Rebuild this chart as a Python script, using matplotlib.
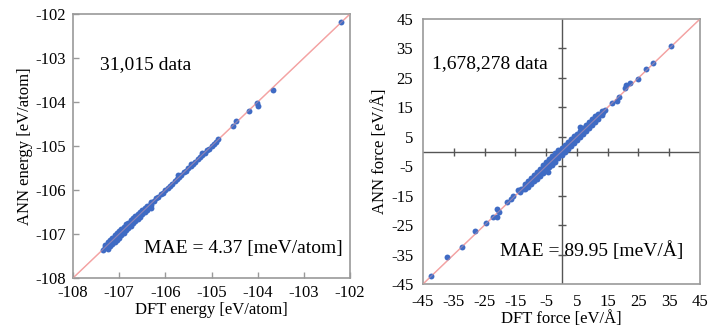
import matplotlib
matplotlib.use("Agg")
import matplotlib.pyplot as plt

plt.rcParams['font.family'] = ['Liberation Serif', 'DejaVu Serif']
plt.rcParams['axes.unicode_minus'] = False

# ---------------- data ----------------
energy_ticks = [-108, -107, -106, -105, -104, -103, -102]
energy_dft = [-107.35, -107.3, -107.25, -107.2, -107.15, -107.1, -107.05, -107.0, -106.95, -106.9,
              -106.85, -106.8, -106.75, -106.7, -106.65, -106.6, -106.55, -106.5, -106.45, -106.4,
              -106.35, -106.3, -106.25, -106.2, -106.15, -106.1, -106.05, -106.0, -105.95, -105.9,
              -105.85, -105.8, -105.75, -105.7, -105.65, -105.6, -105.55, -105.5, -105.45, -105.4,
              -105.35, -105.3, -105.25, -105.2, -105.15, -105.1, -105.05, -105.0, -104.95, -104.9,
              -104.85,
              -107.3, -107.25, -107.2, -107.15, -107.1, -107.05, -107.0, -106.95, -106.9, -106.85,
              -106.8, -106.75, -106.7, -106.65, -106.6, -106.55, -106.5, -106.45, -106.4, -106.3,
              -107.25, -107.2, -107.15, -107.1, -107.05, -107.0, -106.95, -106.9, -106.85, -106.8,
              -106.75, -106.7, -106.65, -106.6, -106.55, -106.5, -106.45, -106.4, -106.35, -106.3,
              -105.72, -105.45, -105.2, -106.3,
              -104.53, -104.47, -104.19, -104.02, -104.0, -103.67, -102.2]
energy_ann = [-107.36, -107.29, -107.27, -107.18, -107.16, -107.08, -107.07, -106.98, -106.96, -106.88,
              -106.86, -106.79, -106.76, -106.68, -106.66, -106.59, -106.56, -106.49, -106.46, -106.39,
              -106.36, -106.29, -106.26, -106.19, -106.16, -106.1, -106.06, -105.99, -105.96, -105.9,
              -105.86, -105.79, -105.76, -105.7, -105.66, -105.6, -105.56, -105.5, -105.46, -105.4,
              -105.36, -105.3, -105.26, -105.2, -105.16, -105.1, -105.06, -105.0, -104.95, -104.9,
              -104.85,
              -107.24, -107.19, -107.13, -107.08, -107.03, -106.98, -106.93, -106.88, -106.83, -106.78,
              -106.74, -106.69, -106.64, -106.59, -106.55, -106.5, -106.45, -106.41, -106.36, -106.27,
              -107.33, -107.28, -107.23, -107.18, -107.13, -107.08, -107.03, -106.97, -106.92, -106.87,
              -106.82, -106.76, -106.71, -106.66, -106.61, -106.55, -106.5, -106.45, -106.39, -106.34,
              -105.67, -105.4, -105.15, -106.4,
              -104.54, -104.43, -104.21, -104.02, -104.08, -103.73, -102.18]

force_ticks = [-45, -35, -25, -15, -5, 5, 15, 25, 35, 45]
force_dft = [-14.0, -13.5, -13.0, -12.5, -12.0, -11.5, -11.0, -10.5, -10.0, -9.5,
             -9.0, -8.5, -8.0, -7.5, -7.0, -6.5, -6.0, -5.5, -5.0, -4.5,
             -4.0, -3.5, -3.0, -2.5, -2.0, -1.5, -1.0, -0.5, 0.0, 0.5,
             1.0, 1.5, 2.0, 2.5, 3.0, 3.5, 4.0, 4.5, 5.0, 5.5,
             6.0, 6.5, 7.0, 7.5, 8.0, 8.5, 9.0, 9.5, 10.0, 10.5,
             11.0, 11.5, 12.0, 12.5, 13.0, 13.5, 14.0,
             -12.0, -11.0, -10.0, -9.0, -8.0, -7.0, -6.0, -5.0, -4.0, -3.0, -2.0, -1.0, 0.0,
             1.0, 2.0, 3.0, 4.0, 5.0, 6.0, 7.0, 8.0, 9.0, 10.0, 11.0, 12.0, 13.0,
             -12.0, -11.0, -10.0, -9.0, -8.0, -7.0, -6.0, -5.0, -4.0, -3.0, -2.0, -1.0, 0.0,
             1.0, 2.0, 3.0, 4.0, 5.0, 6.0, 7.0, 8.0, 9.0, 10.0, 11.0, 12.0, 13.0,
             -42.5, -37.3, -32.4, -28.1, -24.5, -22.1, -21.0, -20.8, -20.2, -17.8, -16.3, -15.8,
             -4.3, -3.0, 6.0, 16.5, 17.9, 18.8, 20.6, 21.1, 22.3, 24.9, 27.4, 29.8, 35.6]
force_ann = [-13.2, -13.6, -12.8, -12.6, -11.8, -11.6, -10.9, -10.6, -9.9, -9.6,
             -8.9, -8.6, -7.9, -7.6, -6.9, -6.6, -5.9, -5.6, -4.9, -4.6,
             -3.9, -3.6, -2.9, -2.6, -1.9, -1.6, -0.9, -0.6, 0.1, 0.6,
             1.1, 1.6, 2.1, 2.4, 3.1, 3.4, 4.1, 4.4, 5.1, 5.4,
             6.1, 6.4, 7.1, 7.4, 8.1, 8.4, 9.1, 9.4, 10.1, 10.4,
             11.1, 11.4, 12.1, 12.4, 13.1, 13.4, 14.0,
             -11.2, -10.1, -9.0, -7.9, -6.8, -5.8, -4.7, -3.7, -2.6, -1.6, -0.6, 0.4, 1.3,
             2.3, 3.2, 4.2, 5.2, 6.1, 7.1, 8.1, 9.0, 10.0, 10.9, 11.9, 12.8, 13.6,
             -12.8, -11.9, -11.0, -10.1, -9.2, -8.2, -7.3, -6.3, -5.4, -4.4, -3.4, -2.3, -1.3,
             -0.3, 0.8, 1.8, 2.8, 3.9, 4.9, 5.9, 6.9, 7.9, 9.0, 10.1, 11.2, 12.3,
             -42.3, -35.9, -32.3, -26.9, -24.2, -22.1, -22.3, -19.6, -20.5, -17.0, -16.1, -15.2,
             -6.9, -4.6, 8.4, 16.4, 17.2, 18.6, 21.5, 22.6, 23.3, 24.5, 27.9, 30.2, 35.9]

# ---------------- style ----------------
pt_color = '#3F6BC4'
line_color = '#F4A3A3'
frame_color = '#999999'
W, H = 708, 328

fig = plt.figure(figsize=(W / 100, H / 100), dpi=100)

def box(l, r, t, b):
    return [l / W, 1 - b / H, (r - l) / W, (b - t) / H]

# ---- left panel: energy ----
ax1 = fig.add_axes(box(73, 350, 14, 278))
ax1.plot([-108, -102], [-108, -102], color=line_color, lw=1, zorder=1)
ax1.plot([-108, -102], [-108, -102], color=line_color, lw=0.8, zorder=3, alpha=0.45)
ax1.scatter(energy_dft, energy_ann, s=18, color=pt_color, linewidths=0, zorder=2)
ax1.set_xlim(-108, -102)
ax1.set_ylim(-108, -102)
ax1.set_xticks(energy_ticks)
ax1.set_yticks(energy_ticks)
ax1.tick_params(direction='in', length=4, width=1, color=frame_color, labelsize=12, pad=5)
for s in ax1.spines.values():
    s.set_color(frame_color)
    s.set_linewidth(1.2)
ax1.set_xlabel('DFT energy [eV/atom]', fontsize=12, labelpad=1)
ax1.set_ylabel('ANN energy [eV/atom]', fontsize=12, labelpad=2)
ax1.text(-107.42, -103.15, '31,015 data', fontsize=14, va='center', ha='left')
ax1.text(-102.15, -107.34, 'MAE = 4.37 [meV/atom]', fontsize=14, va='center', ha='right')

# ---- right panel: force ----
ax2 = fig.add_axes(box(423, 700, 19, 284))
ax2.plot([-45, 45], [-45, 45], color=line_color, lw=1, zorder=1.5)
ax2.plot([-45, 45], [-45, 45], color=line_color, lw=0.8, zorder=3, alpha=0.45)
ax2.scatter(force_dft, force_ann, s=18, color=pt_color, linewidths=0, zorder=2)
ax2.axhline(0, color='#555555', lw=1, zorder=1)
ax2.axvline(0, color='#555555', lw=1, zorder=1)
inner = force_ticks[1:-1]
ax2.plot(inner, [0] * len(inner), ls='', marker='|', ms=6, mew=1, color='#555555', zorder=1)
ax2.plot([0] * len(inner), inner, ls='', marker='_', ms=6, mew=1, color='#555555', zorder=1)
ax2.set_xlim(-45, 45)
ax2.set_ylim(-45, 45)
ax2.set_xticks(force_ticks)
ax2.set_yticks(force_ticks)
ax2.tick_params(length=0, labelsize=12, pad=7)
for s in ax2.spines.values():
    s.set_color(frame_color)
    s.set_linewidth(1.2)
ax2.set_xlabel('DFT force [eV/Å]', fontsize=12, labelpad=1)
ax2.set_ylabel('ANN force [eV/Å]', fontsize=12, labelpad=2)
ax2.text(-42.1, 30.0, '1,678,278 data', fontsize=14, va='center', ha='left')
ax2.text(39.5, -33.5, 'MAE = 89.95 [meV/Å]', fontsize=14, va='center', ha='right')

fig.savefig('out.png', dpi=100)
